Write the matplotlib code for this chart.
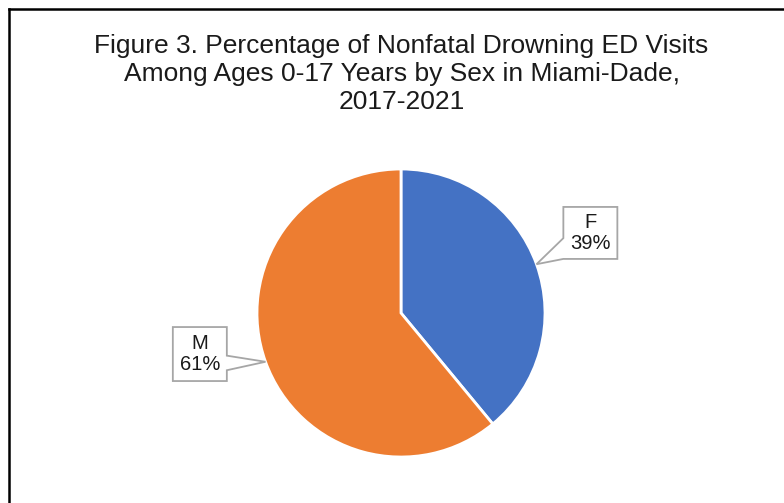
import numpy as np
import matplotlib.pyplot as plt
from matplotlib.patches import Polygon
from matplotlib.lines import Line2D

# Datos: visitas a urgencias por ahogamiento no fatal, 0-17 años
sexes = ['F', 'M']
shares = [39, 61]
colors = ['#4472C4', '#ED7D31']
title = ('Figure 3. Percentage of Nonfatal Drowning ED Visits\n'
         'Among Ages 0-17 Years by Sex in Miami-Dade,\n'
         '2017-2021')

plt.rcParams['font.family'] = ['Liberation Sans', 'DejaVu Sans']

W, H = 784, 503
fig = plt.figure(figsize=(W / 100, H / 100), dpi=100)

# Marco superior e izquierdo
fig.add_artist(Line2D([8.5 / W, 8.5 / W], [0, 1 - 8.5 / H], transform=fig.transFigure,
                      color='black', lw=1.8))
fig.add_artist(Line2D([8.5 / W, 1], [1 - 8.5 / H, 1 - 8.5 / H], transform=fig.transFigure,
                      color='black', lw=1.8))

fig.text(401.5 / W, 1 - 34 / H, title, ha='center', va='top', fontsize=19,
         color='#1a1a1a', linespacing=1.2)

# Ejes del pastel: centro (401, 313) px, radio 144 px
cx, cy, r = 401, 313, 144
ax = fig.add_axes([(cx - r) / W, (H - cy - r) / H, 2 * r / W, 2 * r / H])
wedges, _ = ax.pie(shares, colors=colors, startangle=90, counterclock=False,
                   wedgeprops=dict(edgecolor='white', linewidth=2))
ax.set_xlim(-1, 1)
ax.set_ylim(-1, 1)
ax.axis('off')


def callout(ax, text, tip_angle, center, w, h, side, base):
    x0, x1 = center[0] - w / 2, center[0] + w / 2
    y0, y1 = center[1] - h / 2, center[1] + h / 2
    tip = (np.cos(np.radians(tip_angle)), np.sin(np.radians(tip_angle)))
    b0, b1 = y0 + base[0] * h, y0 + base[1] * h
    if side == 'left':
        pts = [(x0, y1), (x1, y1), (x1, y0), (x0, y0), (x0, b0), tip, (x0, b1)]
    else:
        pts = [(x0, y1), (x1, y1), (x1, b1), tip, (x1, b0), (x1, y0), (x0, y0)]
    ax.add_patch(Polygon(pts, closed=True, facecolor='white', edgecolor='#A6A6A6',
                         lw=1.3, clip_on=False, zorder=3))
    ax.text(center[0], center[1], text, ha='center', va='center', fontsize=14.5,
            color='#1a1a1a', linespacing=1.15, zorder=4, clip_on=False)


# Ángulo medio de cada porción para la punta de la etiqueta
angles = []
start = 90
for s in shares:
    sweep = s / sum(shares) * 360
    angles.append(start - sweep / 2)
    start -= sweep

callout(ax, f'{sexes[0]}\n{shares[0]}%', angles[0], (1.315, 0.556), 0.375, 0.361,
        'left', (0.0, 0.4))
callout(ax, f'{sexes[1]}\n{shares[1]}%', angles[1], (-1.397, -0.285), 0.375, 0.375,
        'right', (0.2, 0.47))

fig.savefig('out.png', dpi=100)
